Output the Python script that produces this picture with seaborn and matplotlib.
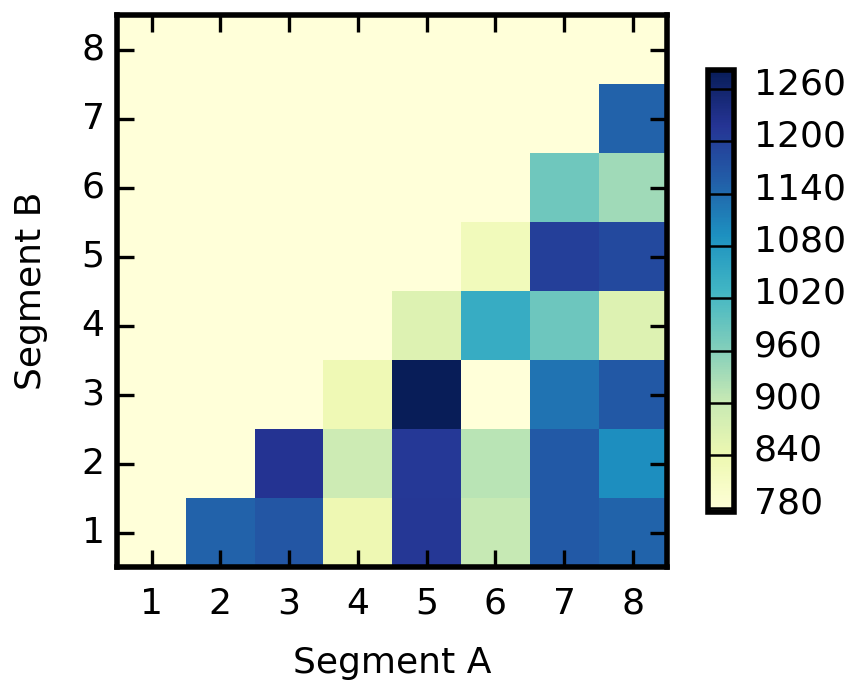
import numpy as np
import pandas as pd
import matplotlib
matplotlib.use("Agg")
import matplotlib.pyplot as plt
import seaborn as sns

# Segment labels on both axes
segments_a = [1, 2, 3, 4, 5, 6, 7, 8]
segments_b = [1, 2, 3, 4, 5, 6, 7, 8]

# Values for each Segment A column, listed for Segment B = 1 .. A-1
col_a2 = [1142]
col_a3 = [1158, 1210]
col_a4 = [826, 883, 825]
col_a5 = [1205, 1203, 1273, 856]
col_a6 = [894, 906, 766, 1037, 815]
col_a7 = [1154, 1154, 1119, 975, 1193, 973]
col_a8 = [1139, 1086, 1155, 857, 1177, 928, 1142]
fill_value = 766  # cells on and above the diagonal

cbar_ticks = [780, 840, 900, 960, 1020, 1080, 1140, 1200, 1260]
# band boundaries drawn across the colorbar
cbar_bounds = [771, 831, 891, 951, 1011, 1071, 1131, 1191, 1251]

columns = {1: [], 2: col_a2, 3: col_a3, 4: col_a4, 5: col_a5,
           6: col_a6, 7: col_a7, 8: col_a8}

grid = np.full((len(segments_b), len(segments_a)), float(fill_value))
for j, a in enumerate(segments_a):
    for i, v in enumerate(columns[a]):
        grid[i, j] = v

df = pd.DataFrame(grid, index=segments_b, columns=segments_a)

plt.rcParams["font.family"] = ["DejaVu Sans"]

fig = plt.figure(figsize=(8.49, 6.90), dpi=100)
ax = fig.add_axes([0.138, 0.178, 0.648, 0.800])
cax = fig.add_axes([0.834, 0.258, 0.031, 0.641])

sns.heatmap(df, ax=ax, cbar_ax=cax, cmap="YlGnBu",
            vmin=grid.min(), vmax=grid.max(),
            cbar_kws={"ticks": cbar_ticks}, linewidths=0)
ax.invert_yaxis()

# Framed axes with inward ticks on all sides
for sp in ax.spines.values():
    sp.set_visible(True)
    sp.set_linewidth(4.0)
    sp.set_color("black")
ax.tick_params(axis="both", which="major", direction="in", length=12.5,
               width=2.4, top=True, right=True, labelsize=26, color="black")
ax.tick_params(axis="x", pad=14)
ax.tick_params(axis="y", pad=9)
ax.set_xticklabels([str(a) for a in segments_a], rotation=0)
ax.set_yticklabels([str(b) for b in segments_b], rotation=0)
ax.set_xlabel("Segment A", fontsize=26, labelpad=18)
ax.set_ylabel("Segment B", fontsize=26, labelpad=24)

# Colorbar: thick outline, band separators
cbar = ax.collections[0].colorbar
cbar.outline.set_visible(True)
cbar.outline.set_linewidth(4.0)
cbar.outline.set_edgecolor("black")
cax.tick_params(length=0, labelsize=26, pad=14)
for b in cbar_bounds:
    cax.axhline(b, color="black", linewidth=1.8)

fig.savefig("out.png", dpi=100)
